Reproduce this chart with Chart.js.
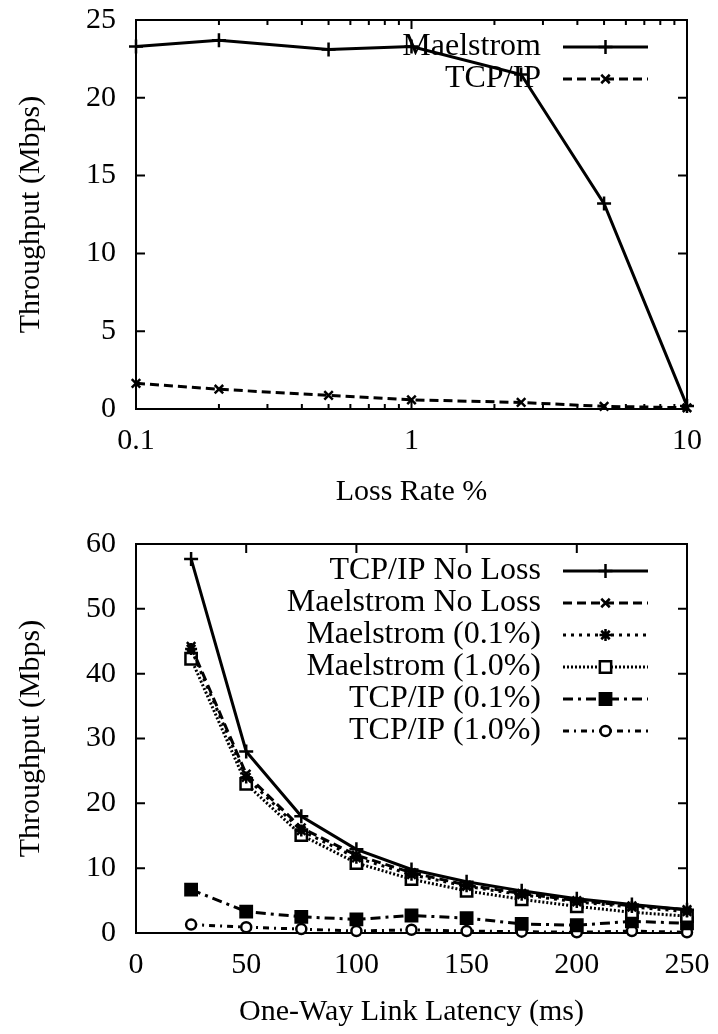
<!DOCTYPE html>
<html>
<head>
<meta charset="utf-8">
<script src="https://cdn.jsdelivr.net/npm/chart.js@4.4.0/dist/chart.umd.min.js"></script>
<style>
  body { margin: 0; background: #fff; }
  canvas { display: block; }
</style>
</head>
<body>
<canvas id="chartLoss" width="718" height="517"></canvas>
<canvas id="chartLatency" width="718" height="517"></canvas>
<script>
// top plot: throughput vs loss rate
const lossRates = [0.1, 0.2, 0.5, 1, 2.5, 5, 10];
const maelstromByLoss = [23.3, 23.7, 23.1, 23.3, 21.5, 13.2, 0.2];
const tcpByLoss = [1.65, 1.27, 0.87, 0.59, 0.42, 0.17, 0.08];
const lossXTicks = [0.1, 1, 10];
const lossYTicks = [0, 5, 10, 15, 20, 25];

// bottom plot: throughput vs one-way latency
const latencies = [25, 50, 75, 100, 125, 150, 175, 200, 225, 250];
const tcpNoLoss = [57.7, 28.0, 18.0, 12.9, 9.8, 7.9, 6.5, 5.3, 4.4, 3.6];
const maelNoLoss = [44.2, 24.5, 16.2, 12.0, 9.3, 7.4, 6.1, 5.0, 4.2, 3.6];
const mael01 = [43.8, 24.0, 15.8, 11.6, 9.0, 7.2, 5.9, 4.8, 4.0, 3.3];
const mael10 = [42.3, 23.0, 15.1, 10.8, 8.3, 6.5, 5.2, 4.1, 3.2, 2.6];
const tcp01 = [6.7, 3.3, 2.5, 2.1, 2.7, 2.3, 1.4, 1.2, 1.8, 1.5];
const tcp10 = [1.3, 0.9, 0.6, 0.3, 0.5, 0.3, 0.2, 0.1, 0.3, 0.1];
const latencyXTicks = [0, 50, 100, 150, 200, 250];
const latencyYTicks = [0, 10, 20, 30, 40, 50, 60];

const fontFamily = '"Liberation Serif", "Times New Roman", serif';
const font = { family: fontFamily, size: 30 };
const keyFontSize = 32;

function pts(xs, ys) {
  return xs.map((x, i) => ({ x: x, y: ys[i] }));
}

function series(label, xs, ys, dash, style, radius, fill) {
  return {
    label: label,
    data: pts(xs, ys),
    borderColor: '#000',
    borderWidth: 3,
    borderDash: dash,
    pointStyle: style,
    pointRadius: radius,
    pointBorderWidth: 2.5,
    pointBorderColor: '#000',
    pointBackgroundColor: fill,
    tension: 0,
    clip: false,
  };
}

// box around the plot with inward ticks on all four sides
const framePlugin = {
  id: 'frame',
  beforeDatasetsDraw(chart, args, opts) {
    const ctx = chart.ctx;
    const a = chart.chartArea;
    const xs = chart.scales.x;
    const ys = chart.scales.y;
    ctx.save();
    ctx.strokeStyle = '#000';
    ctx.lineWidth = 2;
    ctx.setLineDash([]);
    ctx.strokeRect(a.left, a.top, a.right - a.left, a.bottom - a.top);
    ctx.beginPath();
    xs.ticks.forEach(t => {
      const px = xs.getPixelForValue(t.value);
      ctx.moveTo(px, a.bottom); ctx.lineTo(px, a.bottom - 9);
      ctx.moveTo(px, a.top); ctx.lineTo(px, a.top + 9);
    });
    ys.ticks.forEach(t => {
      const py = ys.getPixelForValue(t.value);
      ctx.moveTo(a.left, py); ctx.lineTo(a.left + 9, py);
      ctx.moveTo(a.right, py); ctx.lineTo(a.right - 9, py);
    });
    if (opts.logMinor) {
      for (let dec = xs.min; dec < xs.max; dec *= 10) {
        for (let m = 2; m <= 9; m++) {
          const px = xs.getPixelForValue(dec * m);
          ctx.moveTo(px, a.bottom); ctx.lineTo(px, a.bottom - 5);
          ctx.moveTo(px, a.top); ctx.lineTo(px, a.top + 5);
        }
      }
    }
    ctx.stroke();
    ctx.restore();
  }
};

// gnuplot style key: right aligned text, then line sample with marker
const keyPlugin = {
  id: 'key',
  afterDatasetsDraw(chart, args, opts) {
    const ctx = chart.ctx;
    ctx.save();
    chart.data.datasets.forEach((ds, i) => {
      const y = opts.top + i * opts.spacing;
      ctx.font = keyFontSize + 'px ' + fontFamily;
      ctx.textAlign = 'right';
      ctx.textBaseline = 'middle';
      ctx.fillStyle = '#000';
      ctx.fillText(ds.label, opts.textRight, y);
      ctx.beginPath();
      ctx.setLineDash(ds.borderDash || []);
      ctx.lineWidth = ds.borderWidth;
      ctx.strokeStyle = '#000';
      ctx.moveTo(opts.lineStart, y);
      ctx.lineTo(opts.lineEnd, y);
      ctx.stroke();
      ctx.setLineDash([]);
      ctx.fillStyle = ds.pointBackgroundColor;
      ctx.strokeStyle = ds.pointBorderColor;
      ctx.lineWidth = ds.pointBorderWidth;
      Chart.helpers.drawPoint(ctx, {
        pointStyle: ds.pointStyle,
        radius: ds.pointRadius,
        borderWidth: ds.pointBorderWidth,
        rotation: 0
      }, (opts.lineStart + opts.lineEnd) / 2, y);
    });
    ctx.restore();
  }
};

function axisX(type, min, max, tickVals, height, title, titlePad) {
  return {
    type: type,
    min: min,
    max: max,
    afterBuildTicks: s => { s.ticks = tickVals.map(v => ({ value: v })); },
    afterFit: s => { s.height = height; s.paddingLeft = 0; s.paddingRight = 0; },
    grid: { display: false, drawTicks: false },
    border: { display: false },
    ticks: { font: font, color: '#000', padding: 14, autoSkip: false, maxRotation: 0, callback: v => String(v) },
    title: { display: true, text: title, font: font, color: '#000', padding: { top: 0, bottom: titlePad } }
  };
}

function axisY(min, max, tickVals) {
  return {
    min: min,
    max: max,
    afterBuildTicks: s => { s.ticks = tickVals.map(v => ({ value: v })); },
    afterFit: s => { s.width = 136; s.paddingTop = 0; s.paddingBottom = 0; },
    grid: { display: false, drawTicks: false },
    border: { display: false },
    ticks: { font: font, color: '#000', padding: 20, autoSkip: false, callback: v => String(v) },
    title: { display: true, text: 'Throughput (Mbps)', font: font, color: '#000', padding: { top: 13, bottom: 0 } }
  };
}

const lossConfig = {
  type: 'line',
  data: {
    datasets: [
      series('Maelstrom', lossRates, maelstromByLoss, [], 'cross', 7, '#000'),
      series('TCP/IP', lossRates, tcpByLoss, [9, 5], 'crossRot', 6, '#000'),
    ]
  },
  options: {
    responsive: false,
    animation: false,
    devicePixelRatio: 1,
    layout: { padding: { top: 20, right: 31, left: 0, bottom: 0 } },
    scales: {
      x: axisX('logarithmic', 0.1, 10, lossXTicks, 108, 'Loss Rate %', 7),
      y: axisY(0, 25, lossYTicks)
    },
    plugins: {
      legend: { display: false },
      tooltip: { enabled: false },
      frame: { logMinor: true },
      key: { top: 47, spacing: 32, textRight: 541, lineStart: 563, lineEnd: 648 }
    }
  },
  plugins: [framePlugin, keyPlugin]
};

const latencyConfig = {
  type: 'line',
  data: {
    datasets: [
      series('TCP/IP No Loss', latencies, tcpNoLoss, [], 'cross', 7, '#000'),
      series('Maelstrom No Loss', latencies, maelNoLoss, [9, 5], 'crossRot', 6, '#000'),
      series('Maelstrom (0.1%)', latencies, mael01, [3, 5], 'star', 6, '#000'),
      series('Maelstrom (1.0%)', latencies, mael10, [2, 2], 'rect', 8, '#fff'),
      series('TCP/IP (0.1%)', latencies, tcp01, [10, 5, 3, 5], 'rect', 8, '#000'),
      series('TCP/IP (1.0%)', latencies, tcp10, [6, 5, 2, 5], 'circle', 5, '#fff'),
    ]
  },
  options: {
    responsive: false,
    animation: false,
    devicePixelRatio: 1,
    layout: { padding: { top: 27, right: 31, left: 0, bottom: 0 } },
    scales: {
      x: axisX('linear', 0, 250, latencyXTicks, 101, 'One-Way Link Latency (ms)', 4),
      y: axisY(0, 60, latencyYTicks)
    },
    plugins: {
      legend: { display: false },
      tooltip: { enabled: false },
      frame: { logMinor: false },
      key: { top: 54, spacing: 32, textRight: 541, lineStart: 563, lineEnd: 648 }
    }
  },
  plugins: [framePlugin, keyPlugin]
};

var lossChart = new Chart(document.getElementById('chartLoss'), lossConfig);
var latencyChart = new Chart(document.getElementById('chartLatency'), latencyConfig);
</script>
</body>
</html>
